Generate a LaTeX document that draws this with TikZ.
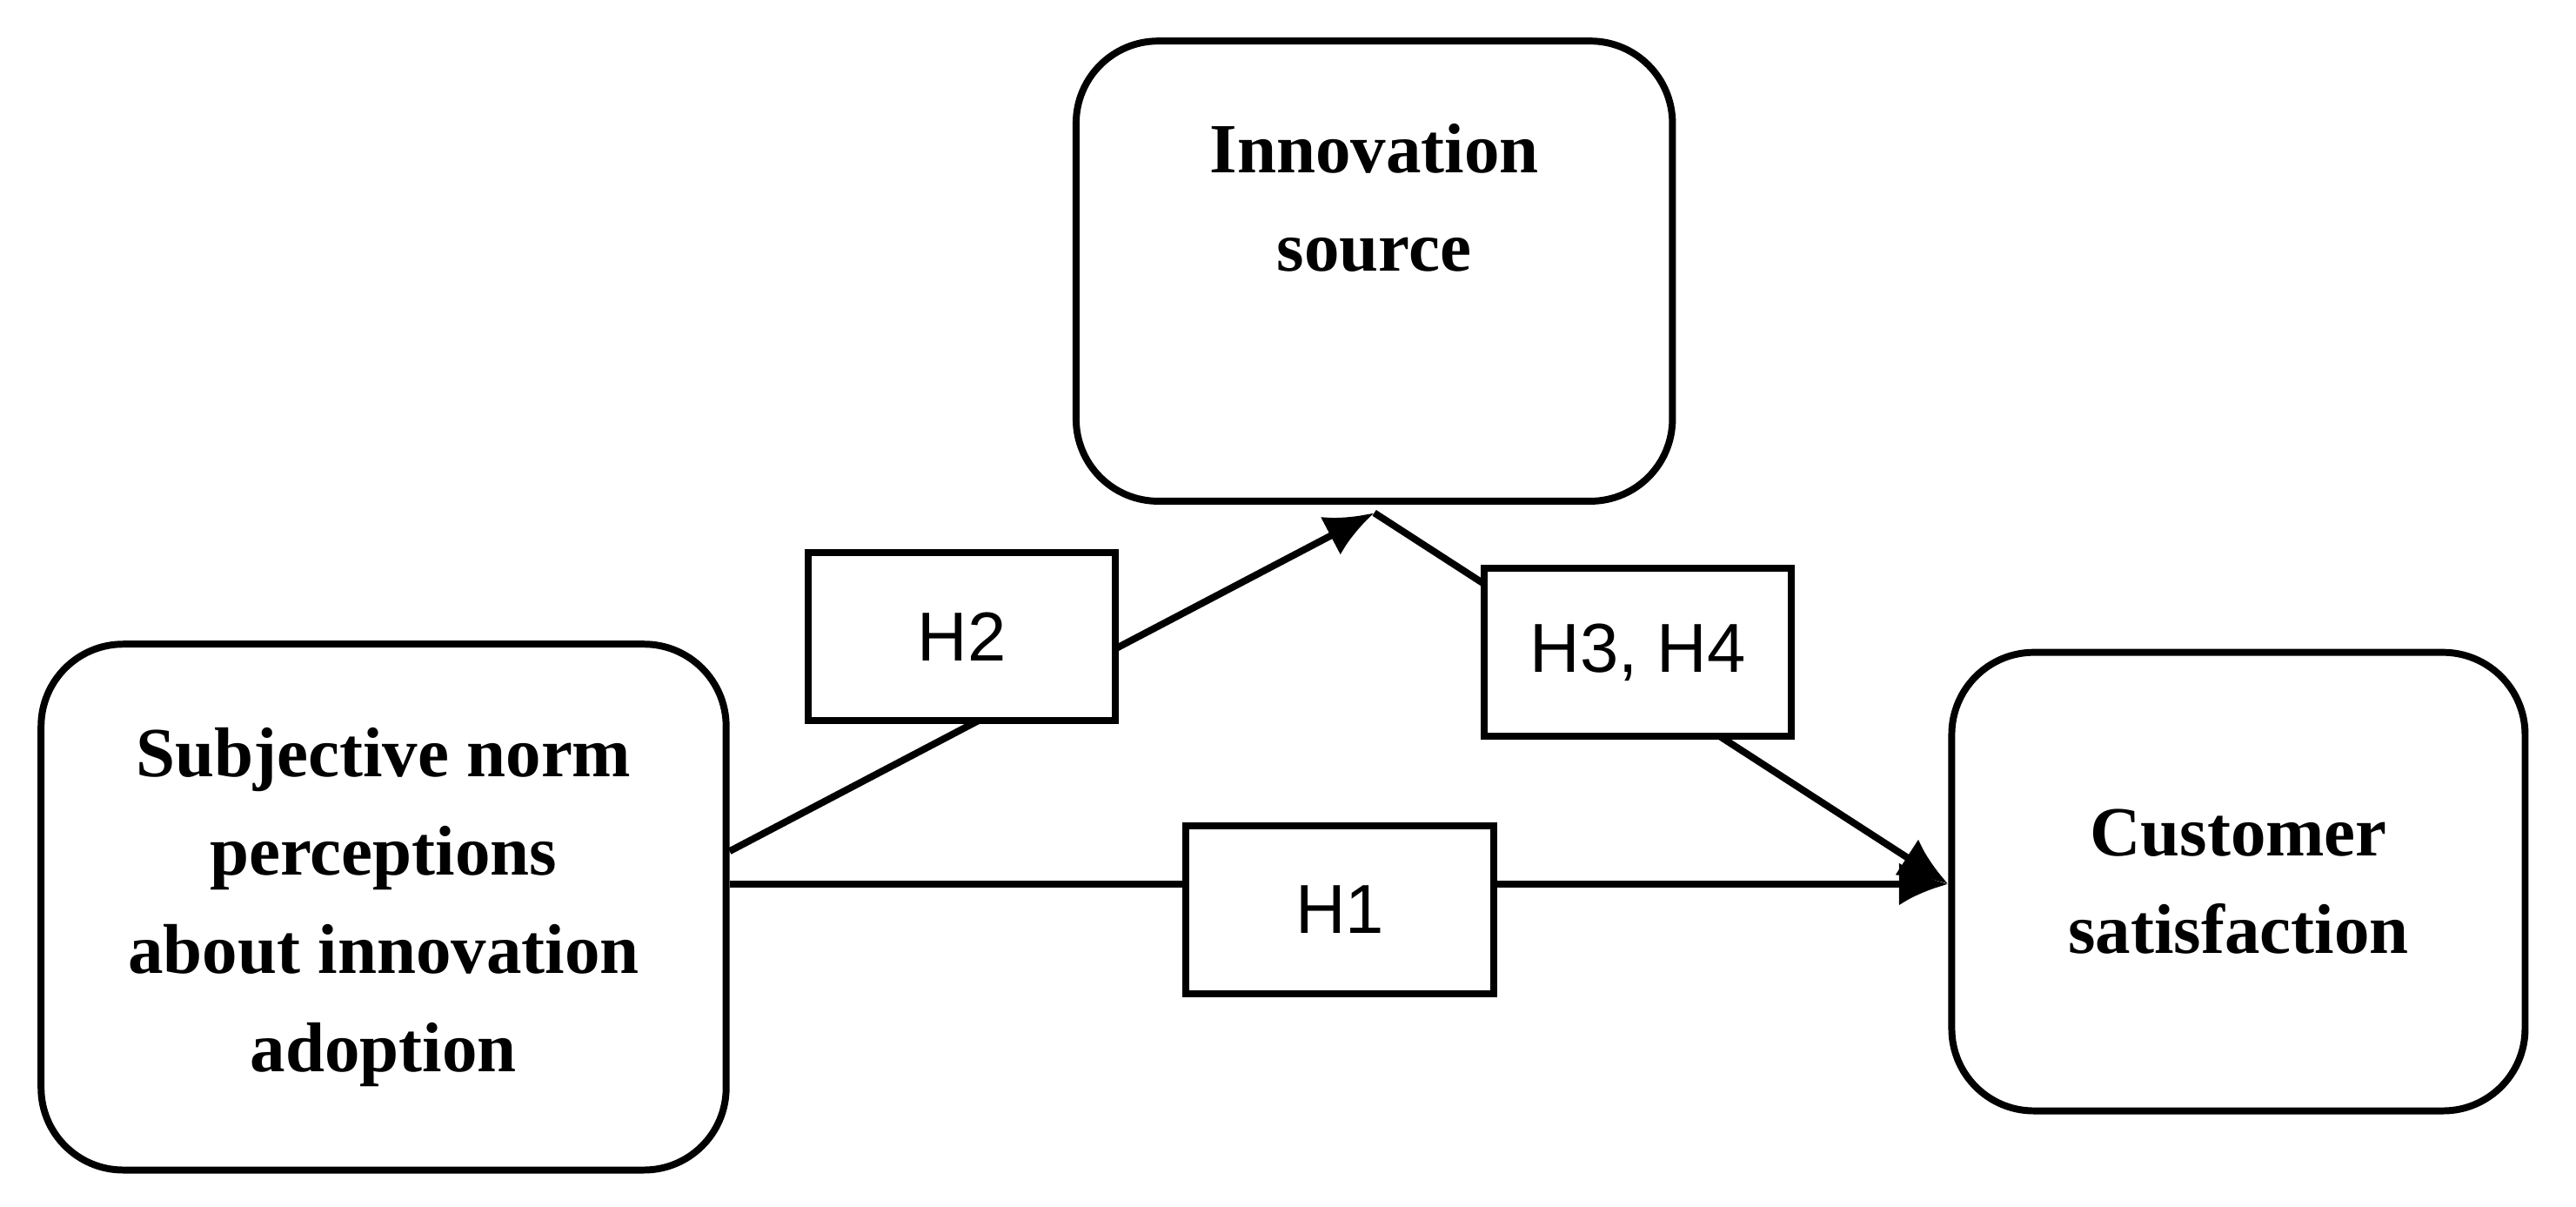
\documentclass[tikz,border=0pt]{standalone}
\usepackage{fontspec}
\setmainfont{Liberation Serif}
\newfontfamily\labelfont{Liberation Sans}
\usetikzlibrary{arrows.meta}
\tikzset{
  construct/.style={draw,line width=1.2pt,rounded corners=5mm,align=center,
    font=\fontsize{12.2}{17}\selectfont\bfseries},
  hyp/.style={draw,line width=1.2pt,fill=white,minimum width=1.87cm,minimum height=1.02cm,
    font=\labelfont\fontsize{12}{14}\selectfont},
  path/.style={line width=1.2pt,-{Latex[length=3mm,width=2.6mm]}}
}
\begin{document}
\begin{tikzpicture}
  \useasboundingbox (0,0) rectangle (15.68,7.34);
  \node[construct,minimum width=4.17cm,minimum height=3.2cm] at (2.335,1.82)(subj){Subjective norm\\perceptions\\about innovation\\adoption};
  \node[construct,minimum width=3.63cm,minimum height=2.8cm] at (8.365,5.69)(source){Innovation\\source\\[0.3cm]};
  \node[construct,minimum width=3.49cm,minimum height=2.79cm] at (13.625,1.975)(satis){Customer\\satisfaction};
  \coordinate (subjA) at ([yshift=3.4mm]subj.east);
  \coordinate (subjB) at ([yshift=1.4mm]subj.east);
  \coordinate (srcS) at ([yshift=-0.5mm]source.south);
  \coordinate (satW) at ([yshift=-0.15mm]satis.west);
  % paths
  \draw[path] (subjA) -- (srcS);
  \draw[path] (srcS) -- (satW);
  \draw[path] (subjB) -- (satW);
  \node[hyp] at (5.855,3.465)(h2){H2};
  \node[hyp] at (9.97,3.37)(h3){H3, H4};
  \node[hyp] at (8.155,1.805)(h1){H1};
\end{tikzpicture}
\end{document}
